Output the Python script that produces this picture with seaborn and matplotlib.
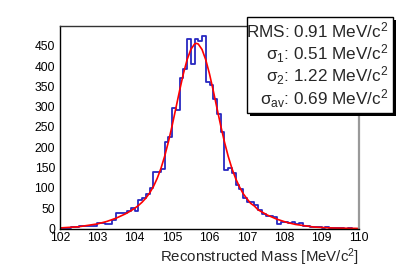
import numpy as np
import pandas as pd
import matplotlib
matplotlib.use("Agg")
import matplotlib.pyplot as plt
import seaborn as sns
from matplotlib.patches import Rectangle
from matplotlib.ticker import MultipleLocator

# ---- data ----
bin_low = 102.0
bin_high = 110.0
n_bins = 80
counts = [1, 2, 1, 3, 3, 6, 7, 7, 6, 7,
          13, 14, 11, 12, 20, 39, 37, 38, 44, 51,
          44, 70, 74, 85, 99, 138, 138, 147, 214, 226,
          296, 292, 371, 393, 467, 404, 467, 462, 475, 360,
          353, 320, 282, 238, 144, 148, 137, 107, 97, 74,
          66, 66, 57, 45, 36, 32, 30, 29, 12, 17,
          15, 13, 17, 12, 14, 6, 5, 4, 3, 3,
          2, 3, 2, 1, 1, 1, 0, 1, 0, 0]

fit_x = [102.0, 102.5, 103.0, 103.25, 103.5, 103.75, 103.9, 104.0, 104.1, 104.2,
         104.3, 104.4, 104.5, 104.6, 104.7, 104.8, 104.9, 105.0, 105.1, 105.2,
         105.3, 105.4, 105.5, 105.6, 105.65, 105.7, 105.8, 105.9, 106.0, 106.1,
         106.2, 106.3, 106.4, 106.5, 106.6, 106.7, 106.8, 106.9, 107.0, 107.1,
         107.2, 107.3, 107.55, 107.8, 108.05, 108.3, 108.8, 109.3, 110.0]
fit_y = [1.4, 4.3, 11.3, 17.3, 25.4, 36.0, 43.8, 49.9, 56.8, 65.1,
         75.2, 87.7, 103.4, 123.3, 147.9, 177.9, 213.2, 253.3, 296.3, 339.8,
         380.7, 415.5, 440.9, 454.3, 456.0, 454.3, 440.9, 415.5, 380.7, 339.8,
         296.3, 253.3, 213.2, 177.9, 147.9, 123.0, 103.0, 86.0, 73.5, 62.0,
         55.5, 46.0, 33.0, 23.0, 15.5, 10.0, 3.5, 1.2, 0.2]

stat_labels = [r"RMS: 0.91 MeV/c$^{2}$",
               r"$\mathrm{\sigma}_{1}$: 0.51 MeV/c$^{2}$",
               r"$\mathrm{\sigma}_{2}$: 1.22 MeV/c$^{2}$",
               r"$\mathrm{\sigma}_{\mathrm{av}}$: 0.69 MeV/c$^{2}$"]
x_title = r"Reconstructed Mass [MeV/c$^{2}$]"

# ---- style ----
sns.set_style("white")
plt.rcParams['font.family'] = ['Liberation Sans', 'DejaVu Sans']
plt.rcParams['mathtext.fontset'] = 'custom'
plt.rcParams['mathtext.rm'] = 'Liberation Sans'
plt.rcParams['mathtext.it'] = 'Liberation Sans:italic'
plt.rcParams['mathtext.bf'] = 'Liberation Sans:bold'

W, H = 399, 270
fig = plt.figure(figsize=(W / 100, H / 100), dpi=100)
ax_l, ax_r, ax_t, ax_b = 60, 359, 26, 228.5
ax = fig.add_axes([ax_l / W, 1 - ax_b / H, (ax_r - ax_l) / W, (ax_b - ax_t) / H])

width = (bin_high - bin_low) / n_bins
centers = bin_low + width * (np.arange(n_bins) + 0.5)
hist_df = pd.DataFrame({"mass": centers, "count": np.asarray(counts, dtype=float)})
sns.histplot(data=hist_df, x="mass", weights="count", binwidth=width,
             binrange=(bin_low, bin_high), element="step", fill=False,
             color="#2828c0", linewidth=1.3, ax=ax)
fit_df = pd.DataFrame({"mass": fit_x, "fit": fit_y})
sns.lineplot(data=fit_df, x="mass", y="fit", color="#ff0000", linewidth=1.2, ax=ax)

ax.set_xlim(bin_low, bin_high)
ax.set_ylim(0, max(counts) * 1.05)
ax.set_ylabel("")
ax.set_xlabel(x_title, loc="right", fontsize=10.8, labelpad=2)

ax.xaxis.set_major_locator(MultipleLocator(1))
ax.xaxis.set_minor_locator(MultipleLocator(0.2))
ax.yaxis.set_major_locator(MultipleLocator(50))
ax.yaxis.set_minor_locator(MultipleLocator(10))
ax.tick_params(axis='both', which='both', direction='in', colors='#555555',
               labelcolor='black', labelsize=8.7)
ax.tick_params(axis='y', which='major', length=5.8, width=0.8, pad=3.6)
ax.tick_params(axis='y', which='minor', length=2.9, width=0.8)
ax.tick_params(axis='x', which='major', length=4.3, width=0.8, pad=2.5)
ax.tick_params(axis='x', which='minor', length=2.2, width=0.8)

for s in ['left', 'bottom']:
    ax.spines[s].set_color('black')
    ax.spines[s].set_linewidth(1.0)
ax.spines['top'].set_color('#333333')
ax.spines['top'].set_linewidth(1.0)
ax.spines['right'].set_color('#999999')
ax.spines['right'].set_linewidth(1.6)

# stats box with shadow
bx0, bx1, by0, by1 = 246.7, 393.3, 16.7, 113.3
shadow = Rectangle(((bx0 + 3) / W, 1 - (by1 + 3) / H), (bx1 - bx0) / W, (by1 - by0) / H,
                   transform=fig.transFigure, facecolor='black', edgecolor='none', zorder=10)
box = Rectangle((bx0 / W, 1 - by1 / H), (bx1 - bx0) / W, (by1 - by0) / H,
                transform=fig.transFigure, facecolor='white', edgecolor='black',
                linewidth=1.0, zorder=11)
fig.add_artist(shadow)
fig.add_artist(box)
baselines = [37, 59.5, 82, 104.5]
for txt, yb in zip(stat_labels, baselines):
    fig.text(388.3 / W, 1 - yb / H, txt, ha='right', va='baseline', fontsize=12.3, zorder=12)

fig.savefig("out.png", dpi=100)
